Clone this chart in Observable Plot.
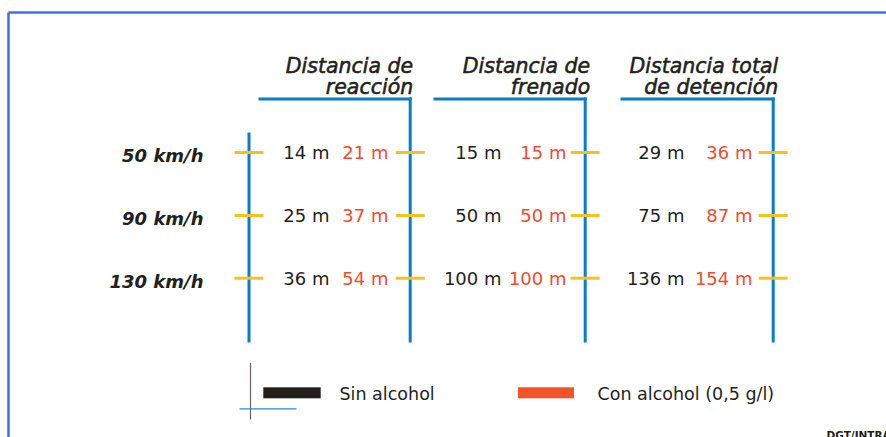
<!DOCTYPE html>
<html>
<head>
<meta charset="utf-8">
<script src="https://cdn.jsdelivr.net/npm/d3@7"></script>
<script src="https://cdn.jsdelivr.net/npm/@observablehq/plot@0.6"></script>
<style>
  html, body { margin: 0; padding: 0; background: #ffffff; }
  #chart svg { display: block; }
</style>
</head>
<body>
<div id="chart"></div>
<script>
// ---------- DATA ----------
const speeds = ["50 km/h", "90 km/h", "130 km/h"];
const columnTitles = [
  "Distancia de\nreacción",
  "Distancia de\nfrenado",
  "Distancia total\nde detención"
];
// metres, one array per column, one value per speed
const sinAlcohol = [[14, 25, 36], [15, 50, 100], [29, 75, 136]];
const conAlcohol = [[21, 37, 54], [15, 50, 100], [36, 87, 154]];
const legendLabels = ["Sin alcohol", "Con alcohol (0,5 g/l)"];
const sourceText = "DGT/INTRA";

// ---------- LAYOUT (pixels) ----------
const W = 886, H = 437;
const L = {
  frameX: 8, frameY: 12,
  colX: [409.7, 584.7, 772.7],
  lineStart: [258, 433, 620],
  topY: 98.5, bottomY: 342,
  leftX: 248.5, leftTop: 132,
  rowY: [152, 215, 277.7],
  blackRight: [329, 501, 684],
  redRight: [388, 566, 752],
  tickHalf: 14.5,
  headerDx: [3, 5, 5], headerBase: 93.5,
  labelRight: 203,
  legendRectY: [387.3, 398.3],
  legendRect: [[263.3, 320.7], [518, 574]],
  legendText: [339, 597],
  legendBase: 399
};
const C = {
  frame: "#3b6ff2", blue: "#0a7cc8", yellow: "#f8c21c",
  ink: "#231f1c", red: "#f24a2e", redRect: "#f4512f"
};

// ---------- BUILD MARK DATA ----------
const segs = [];
// frame (top + left)
segs.push({x1: L.frameX, y1: L.frameY, x2: W + 2, y2: L.frameY, c: C.frame, w: 2.5});
segs.push({x1: L.frameX, y1: L.frameY, x2: L.frameX, y2: H + 2, c: C.frame, w: 2.5});
// column brackets
columnTitles.forEach((t, i) => {
  segs.push({x1: L.lineStart[i], y1: L.topY, x2: L.colX[i] + 1.5, y2: L.topY, c: C.blue, w: 3});
  segs.push({x1: L.colX[i], y1: L.topY - 1.5, x2: L.colX[i], y2: L.bottomY, c: C.blue, w: 3});
});
// left scale line
segs.push({x1: L.leftX, y1: L.leftTop, x2: L.leftX, y2: L.bottomY, c: C.blue, w: 3});
// yellow ticks
const tickXs = [L.leftX, ...L.colX];
speeds.forEach((s, r) => {
  tickXs.forEach(x => segs.push({x1: x - L.tickHalf, y1: L.rowY[r], x2: x + L.tickHalf, y2: L.rowY[r], c: C.yellow, w: 3}));
});
// legend icon
segs.push({x1: 250, y1: 362.3, x2: 250, y2: 419, c: "#6b615c", w: 1.2});
segs.push({x1: 239, y1: 408.4, x2: 296, y2: 408.4, c: "#2b8ad6", w: 1.2});

const headers = columnTitles.map((t, i) => ({x: L.colX[i] + L.headerDx[i], y: L.headerBase, text: t}));

const rowLabels = speeds.map((s, r) => ({x: L.labelRight, y: L.rowY[r] + 9.5, text: s}));

const blackVals = [], redVals = [];
columnTitles.forEach((t, i) => {
  speeds.forEach((s, r) => {
    blackVals.push({x: L.blackRight[i], y: L.rowY[r] + 6.8, text: `${sinAlcohol[i][r]} m`});
    redVals.push({x: L.redRight[i], y: L.rowY[r] + 6.8, text: `${conAlcohol[i][r]} m`});
  });
});

const legendRects = legendLabels.map((lab, i) => ({
  x1: L.legendRect[i][0], x2: L.legendRect[i][1], y1: L.legendRectY[0], y2: L.legendRectY[1],
  fill: i === 0 ? C.ink : C.redRect
}));
const legendTexts = legendLabels.map((lab, i) => ({x: L.legendText[i], y: L.legendBase, text: lab}));

const chart = Plot.plot({
  width: W, height: H,
  margin: 0,
  x: {type: "identity"},
  y: {type: "identity"},
  style: {fontFamily: "DejaVu Sans", background: "#ffffff"},
  marks: [
    Plot.link(segs, {x1: "x1", y1: "y1", x2: "x2", y2: "y2", stroke: d => d.c, strokeWidth: d => d.w, strokeLinecap: "butt"}),
    Plot.rect(legendRects, {x1: "x1", x2: "x2", y1: "y1", y2: "y2", fill: d => d.fill}),
    Plot.text(headers, {x: "x", y: "y", text: "text", textAnchor: "end", lineAnchor: "bottom",
      lineHeight: 21 / 20.5,
      fontSize: 20.5, fontStyle: "italic", fill: C.ink, stroke: C.ink, strokeWidth: 0.55}),
    Plot.text(rowLabels, {x: "x", y: "y", text: "text", textAnchor: "end", lineAnchor: "bottom",
      fontSize: 18, fontWeight: "bold", fontStyle: "italic", fill: C.ink}),
    Plot.text(blackVals, {x: "x", y: "y", text: "text", textAnchor: "end", lineAnchor: "bottom",
      fontSize: 18, fill: C.ink}),
    Plot.text(redVals, {x: "x", y: "y", text: "text", textAnchor: "end", lineAnchor: "bottom",
      fontSize: 18, fill: C.red}),
    Plot.text(legendTexts, {x: "x", y: "y", text: "text", textAnchor: "start", lineAnchor: "bottom",
      fontSize: 17.5, fill: C.ink}),
    Plot.text([sourceText], {x: () => 826, y: () => 438.5, text: d => d, textAnchor: "start", lineAnchor: "bottom",
      fontSize: 10.5, fontWeight: "bold", fill: C.ink})
  ]
});
document.getElementById("chart").appendChild(chart);
</script>
</body>
</html>
